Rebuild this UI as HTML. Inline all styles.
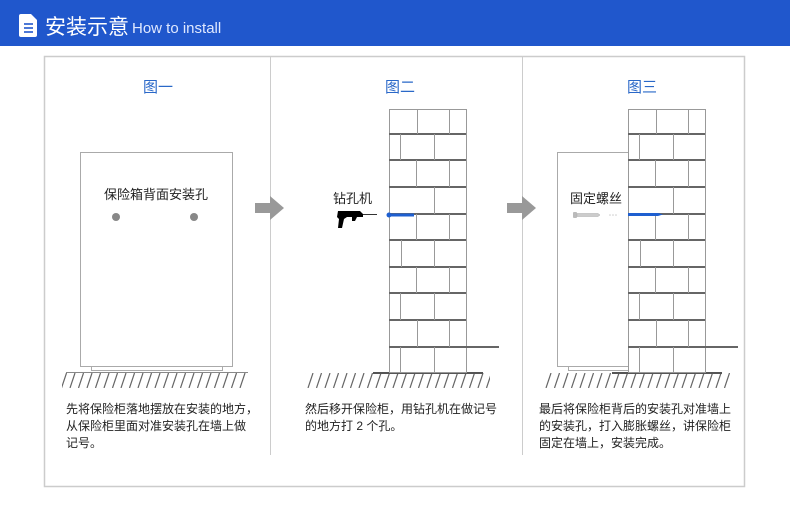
<!DOCTYPE html>
<html><head><meta charset="utf-8"><style>
body{margin:0;background:#fff;width:790px;height:505px;overflow:hidden;font-family:"Liberation Sans","Noto Sans CJK SC",sans-serif}
</style></head><body>
<svg width="790" height="505" xmlns="http://www.w3.org/2000/svg" font-family="Liberation Sans, Noto Sans CJK SC, sans-serif">
<defs>
<pattern id="hatch" x="0" y="373" width="8.5" height="15" patternUnits="userSpaceOnUse">
<line x1="7" y1="0" x2="2" y2="15" stroke="#666" stroke-width="1.2"/>
</pattern>
<g id="wall">
<rect x="389.5" y="109.5" width="77" height="263" fill="#fff" stroke="#999"/>
<g stroke="#666" stroke-width="2">
<line x1="389" y1="134" x2="466" y2="134"/><line x1="389" y1="160" x2="466" y2="160"/>
<line x1="389" y1="187" x2="466" y2="187"/><line x1="389" y1="214" x2="466" y2="214"/>
<line x1="389" y1="240" x2="466" y2="240"/><line x1="389" y1="267" x2="466" y2="267"/>
<line x1="389" y1="293" x2="466" y2="293"/><line x1="389" y1="320" x2="466" y2="320"/>
<line x1="389" y1="347" x2="466" y2="347"/>
</g>
<g stroke="#999" stroke-width="1">
<line x1="417.5" y1="109" x2="417.5" y2="134"/><line x1="449.5" y1="109" x2="449.5" y2="134"/>
<line x1="400.5" y1="134" x2="400.5" y2="160"/><line x1="434.5" y1="134" x2="434.5" y2="160"/>
<line x1="416.5" y1="160" x2="416.5" y2="187"/><line x1="449.5" y1="160" x2="449.5" y2="187"/>
<line x1="434.5" y1="187" x2="434.5" y2="214"/>
<line x1="416.5" y1="214" x2="416.5" y2="240"/><line x1="449.5" y1="214" x2="449.5" y2="240"/>
<line x1="401.5" y1="240" x2="401.5" y2="267"/><line x1="434.5" y1="240" x2="434.5" y2="267"/>
<line x1="416.5" y1="267" x2="416.5" y2="293"/><line x1="449.5" y1="267" x2="449.5" y2="293"/>
<line x1="400.5" y1="293" x2="400.5" y2="320"/><line x1="434.5" y1="293" x2="434.5" y2="320"/>
<line x1="417.5" y1="320" x2="417.5" y2="347"/><line x1="449.5" y1="320" x2="449.5" y2="347"/>
<line x1="400.5" y1="347" x2="400.5" y2="372"/><line x1="434.5" y1="347" x2="434.5" y2="372"/>
</g>
</g>
</defs>
<rect x="0" y="0" width="790" height="46" fill="#2057cc"/>
<path d="M21 14 h10 l6 6 v15 a2 2 0 0 1 -2 2 h-14 a2 2 0 0 1 -2 -2 v-19 a2 2 0 0 1 2 -2z" fill="#fff"/>
<g stroke="#2057cc" stroke-width="1.6"><line x1="24" y1="24" x2="33" y2="24"/><line x1="24" y1="28" x2="33" y2="28"/><line x1="24" y1="32" x2="33" y2="32"/></g>
<text x="45" y="34" fill="#fff" font-size="21">安装示意</text>
<text x="132" y="33" fill="#dfe8ff" font-size="15">How to install</text>
<rect x="44.5" y="56.5" width="700" height="430" fill="#fff" stroke="#ccc" stroke-width="1.5"/>
<line x1="270.5" y1="57" x2="270.5" y2="455" stroke="#ccc"/>
<line x1="522.5" y1="57" x2="522.5" y2="455" stroke="#ccc"/>
<g fill="#2a68c8" font-size="15" text-anchor="middle">
<text x="158" y="92">图一</text><text x="400" y="92">图二</text><text x="642" y="92">图三</text></g>
<rect x="80.5" y="152.5" width="152" height="214" fill="#fff" stroke="#aaa"/>
<rect x="91.5" y="366.5" width="131" height="4" fill="#fff" stroke="#aaa"/>
<text x="156" y="199" font-size="13" text-anchor="middle" fill="#222">保险箱背面安装孔</text>
<circle cx="116" cy="217" r="4" fill="#888"/><circle cx="194" cy="217" r="4" fill="#888"/>
<rect x="62" y="373" width="186" height="15" fill="url(#hatch)"/>
<line x1="66" y1="372.5" x2="248" y2="372.5" stroke="#888"/>
<path d="M255 203 h15 v-7 l14 12 l-14 12 v-7 h-15z" fill="#999"/>
<path d="M507 203 h15 v-7 l14 12 l-14 12 v-7 h-15z" fill="#999"/>
<rect x="305" y="373" width="185" height="15" fill="url(#hatch)"/>
<line x1="373" y1="373" x2="483" y2="373" stroke="#555" stroke-width="2"/>
<use href="#wall"/>
<line x1="466" y1="347" x2="499" y2="347" stroke="#666" stroke-width="2"/>
<text x="333" y="203" font-size="13" fill="#222">钻孔机</text>
<path d="M338 211 h22 l3 3 v3 h-6 l-2 4 h-3 v-4 h-5 l-3 2 l-2 9 h-4 l1 -9 l-2 -2z" fill="#000"/>
<line x1="363" y1="214.5" x2="377" y2="214.5" stroke="#333"/>
<line x1="389" y1="215" x2="414" y2="215" stroke="#1e5fd0" stroke-width="3"/>
<circle cx="389" cy="215" r="2.5" fill="#1e5fd0"/>
<rect x="543" y="373" width="187" height="15" fill="url(#hatch)"/>
<rect x="557.5" y="152.5" width="71" height="214" fill="#fff" stroke="#aaa"/>
<rect x="568.5" y="366.5" width="60" height="4" fill="#fff" stroke="#aaa"/>
<line x1="612" y1="373" x2="722" y2="373" stroke="#555" stroke-width="2"/>
<use href="#wall" transform="translate(239,0)"/>
<line x1="705" y1="347" x2="738" y2="347" stroke="#666" stroke-width="2"/>
<text x="570" y="203" font-size="13" fill="#222">固定螺丝</text>
<rect x="573" y="212" width="4" height="6" rx="1" fill="#bbb"/>
<path d="M577 213.5 h21 l2 1.5 l-2 1.5 h-21z" fill="#ccc" stroke="#aaa" stroke-width="0.5"/>
<g fill="#ccc"><circle cx="610" cy="215" r="0.8"/><circle cx="613" cy="215" r="0.8"/><circle cx="616" cy="215" r="0.8"/></g>
<path d="M628 213 h30 l5 1.5 l-5 1.5 h-30z" fill="#1e5fd0"/>
<g font-size="12" fill="#222">
<text x="66" y="413">先将保险柜落地摆放在安装的地方，</text>
<text x="66" y="430">从保险柜里面对准安装孔在墙上做</text>
<text x="66" y="447">记号。</text>
<text x="305" y="413">然后移开保险柜，用钻孔机在做记号</text>
<text x="305" y="430">的地方打 2 个孔。</text>
<text x="539" y="413">最后将保险柜背后的安装孔对准墙上</text>
<text x="539" y="430">的安装孔，打入膨胀螺丝，讲保险柜</text>
<text x="539" y="447">固定在墙上，安装完成。</text>
</g>
</svg>
</body></html>
